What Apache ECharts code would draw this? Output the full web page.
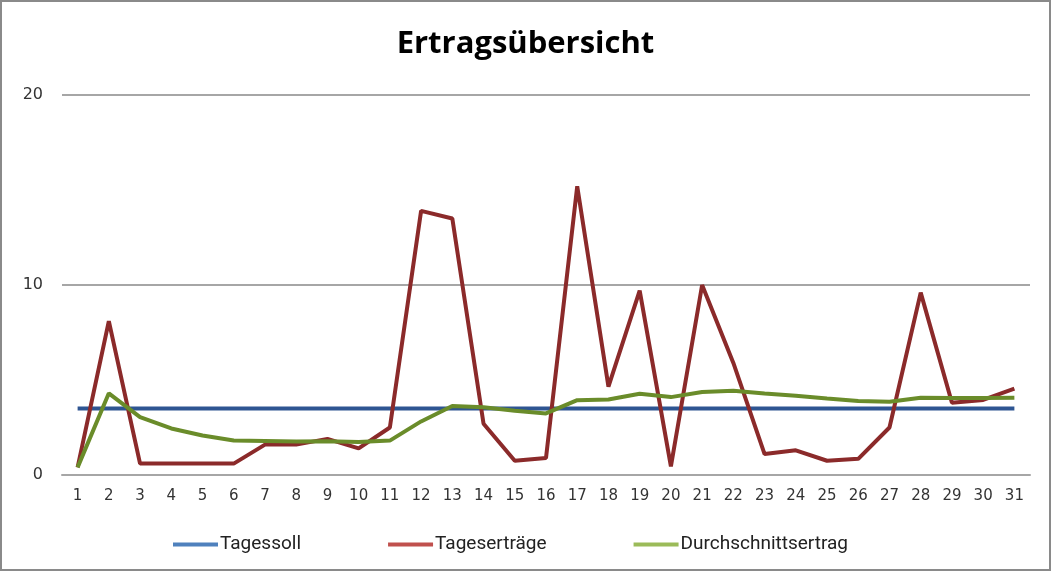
<!DOCTYPE html>
<html>
<head>
<meta charset="utf-8">
<script src="https://cdn.jsdelivr.net/npm/echarts@6/dist/echarts.min.js"></script>
<style>
html,body{margin:0;padding:0;background:#fff;}
#c{width:1051px;height:571px;box-sizing:border-box;border:2px solid #8a8a8a;}
</style>
</head>
<body>
<div id="c"></div>
<script>
const days = ['1','2','3','4','5','6','7','8','9','10','11','12','13','14','15','16','17','18','19','20','21','22','23','24','25','26','27','28','29','30','31'];
const tagessoll = [3.5,3.5,3.5,3.5,3.5,3.5,3.5,3.5,3.5,3.5,3.5,3.5,3.5,3.5,3.5,3.5,3.5,3.5,3.5,3.5,3.5,3.5,3.5,3.5,3.5,3.5,3.5,3.5,3.5,3.5,3.5];
const tagesertraege = [0.4,8.1,0.6,0.6,0.6,0.6,1.6,1.6,1.9,1.4,2.5,13.9,13.5,2.7,0.75,0.9,15.2,4.65,9.7,0.45,10.0,5.9,1.1,1.3,0.75,0.85,2.5,9.6,3.8,3.95,4.55];
const durchschnitt = [0.4,4.3,3.05,2.45,2.08,1.82,1.79,1.76,1.78,1.74,1.81,2.82,3.63,3.57,3.38,3.24,3.94,3.97,4.28,4.1,4.37,4.44,4.29,4.17,4.03,3.9,3.86,4.06,4.05,4.05,4.07];
const yTicks = {min:0, max:20, interval:10};

const chart = echarts.init(document.getElementById('c'));
const lineW = 4;
chart.setOption({
  animation:false,
  title:{text:'Ertragsübersicht', left:'center', top:22,
    textStyle:{fontFamily:'Open Sans', fontWeight:'bold', fontSize:31, color:'#000'}},
  grid:{left:60, right:19, top:93, bottom:94},
  legend:{left:166, top:528, itemWidth:45, itemHeight:4, itemGap:87,
    icon:'rect',
    textStyle:{fontFamily:'Roboto', fontSize:19, color:'#222', padding:[0,0,0,-3]},
    data:[
      {name:'Tagessoll', itemStyle:{color:'#4f81bd'}},
      {name:'Tageserträge', itemStyle:{color:'#c0504d'}},
      {name:'Durchschnittsertrag', itemStyle:{color:'#9bbb59'}}
    ]},
  xAxis:{type:'category', data:days, boundaryGap:true,
    axisLine:{lineStyle:{color:'#a6a6a6', width:2}},
    axisTick:{show:false},
    axisLabel:{fontFamily:'DejaVu Sans', fontSize:15, color:'#333', margin:14, interval:0}},
  yAxis:{type:'value', min:yTicks.min, max:yTicks.max, interval:yTicks.interval,
    axisLine:{show:false}, axisTick:{show:false},
    splitLine:{lineStyle:{color:'#a6a6a6', width:2}},
    axisLabel:{fontFamily:'DejaVu Sans', fontSize:16, color:'#333', margin:19}},
  series:[
    {name:'Tagessoll', type:'line', data:tagessoll, symbol:'none',
      lineStyle:{color:'#2e5592', width:lineW}, itemStyle:{color:'#4f81bd'}},
    {name:'Tageserträge', type:'line', data:tagesertraege, symbol:'none',
      lineStyle:{color:'#8b2a2a', width:lineW}, itemStyle:{color:'#c0504d'}},
    {name:'Durchschnittsertrag', type:'line', data:durchschnitt, symbol:'none',
      lineStyle:{color:'#6a8c2a', width:lineW}, itemStyle:{color:'#9bbb59'}}
  ]
});
</script>
</body>
</html>
